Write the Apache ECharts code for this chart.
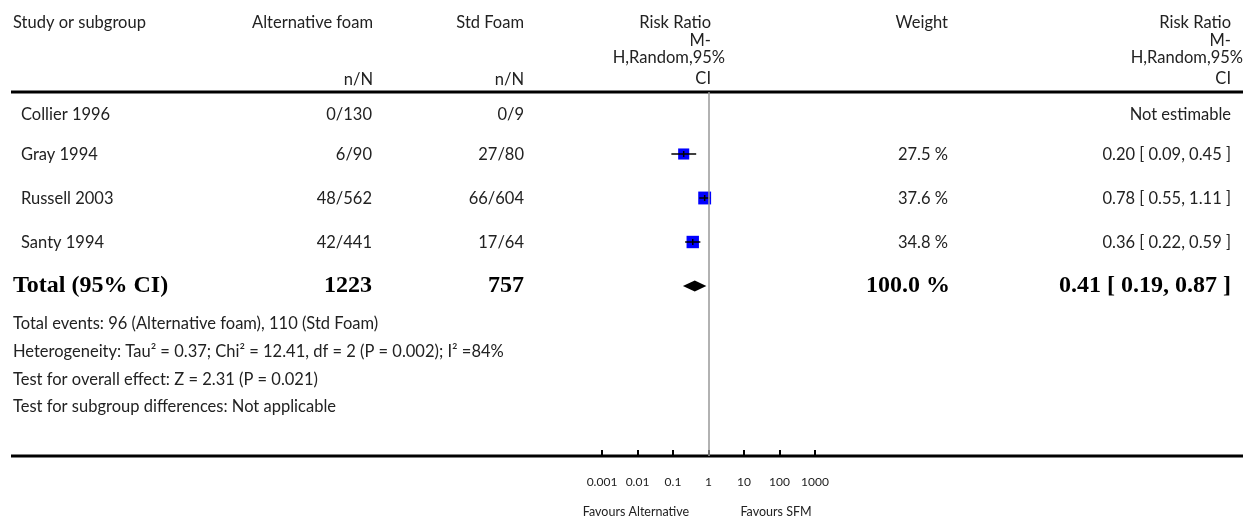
<!DOCTYPE html>
<html><head><meta charset="utf-8">
<script src="https://cdn.jsdelivr.net/npm/echarts@6/dist/echarts.min.js"></script>
<style>html,body{margin:0;padding:0;background:#fff}#chart{width:1259px;height:521px}</style>
</head><body><div id="chart"></div>
<script>
// Study rows
const studies   = ['Collier 1996', 'Gray 1994', 'Russell 2003', 'Santy 1994'];
const altEvents = ['0/130', '6/90', '48/562', '42/441'];
const stdEvents = ['0/9', '27/80', '66/604', '17/64'];
const weights   = [null, 27.5, 37.6, 34.8];
const rrEst     = [null, 0.20, 0.78, 0.36];
const rrLow     = [null, 0.09, 0.55, 0.22];
const rrHigh    = [null, 0.45, 1.11, 0.59];

// Pooled row
const totalLabel  = 'Total (95% CI)';
const totalAlt    = 1223;
const totalStd    = 757;
const totalWeight = 100.0;
const totalRR     = [0.41, 0.19, 0.87];

// Footnotes
const footnotes = [
  'Total events: 96 (Alternative foam), 110 (Std Foam)',
  'Heterogeneity: Tau\u00b2 = 0.37; Chi\u00b2 = 12.41, df = 2 (P = 0.002); I\u00b2 =84%',
  'Test for overall effect: Z = 2.31 (P = 0.021)',
  'Test for subgroup differences: Not applicable'
];

// Axis ticks
const tickValues = [0.001, 0.01, 0.1, 1, 10, 100, 1000];
const tickLabels = ['0.001', '0.01', '0.1', '1', '10', '100', '1000'];

const SANS = 'Lato, "Open Sans", sans-serif';
const SERIF = '"Liberation Serif", "DejaVu Serif", serif';
const TXT = '#222';

const chart = echarts.init(document.getElementById('chart'), null, {renderer: 'canvas'});

// plot-area geometry
const plotTop = 92, plotBottom = 456, rowStep = 44, firstRow = 18;
const yMin = -firstRow / rowStep;
const yMax = yMin + (plotBottom - plotTop) / rowStep;

const studyData = [];
studies.forEach((s, i) => {
  if (rrEst[i] != null) studyData.push([i, rrEst[i], rrLow[i], rrHigh[i], weights[i]]);
});
const totalRow = studies.length;

chart.setOption({
  animation: false,
  grid: {left: 602, right: 1259 - 815, top: plotTop, bottom: 521 - plotBottom},
  xAxis: {
    type: 'log', logBase: 10, min: tickValues[0], max: tickValues[tickValues.length - 1],
    position: 'bottom',
    axisLine: {show: false, onZero: false},
    axisTick: {show: true, inside: true, length: 6, lineStyle: {color: '#000', width: 2}},
    splitLine: {show: false},
    axisLabel: {
      margin: 20, fontSize: 12, color: TXT, fontFamily: SANS,
      formatter: v => tickLabels[tickValues.findIndex(t => Math.abs(Math.log10(t) - Math.log10(v)) < 1e-6)] || ''
    }
  },
  yAxis: {type: 'value', inverse: true, min: yMin, max: yMax, show: false},
  series: [
    {
      type: 'custom',
      encode: {x: [1, 2, 3], y: 0},
      data: studyData,
      renderItem: (params, api) => {
        const row = api.value(0);
        const pE = api.coord([api.value(1), row]);
        const pL = api.coord([api.value(2), row]);
        const pH = api.coord([api.value(3), row]);
        const s = 2 * Math.sqrt(api.value(4)) + 0.6;
        return {type: 'group', children: [
          {type: 'rect', shape: {x: pE[0] - s / 2, y: pE[1] - s / 2, width: s, height: s}, style: {fill: '#0000ff'}},
          {type: 'line', shape: {x1: pL[0], y1: pL[1], x2: pH[0], y2: pH[1]}, style: {stroke: '#000', lineWidth: 1.5}},
          {type: 'line', shape: {x1: pE[0], y1: pE[1] - 3, x2: pE[0], y2: pE[1] + 3}, style: {stroke: '#000', lineWidth: 1.5}}
        ]};
      },
      markLine: {
        silent: true, symbol: 'none', label: {show: false},
        lineStyle: {color: '#999', width: 1.5, type: 'solid'},
        data: [{xAxis: 1}]
      }
    },
    {
      type: 'custom',
      encode: {x: [1, 2, 3], y: 0},
      data: [[totalRow, totalRR[0], totalRR[1], totalRR[2]]],
      renderItem: (params, api) => {
        const row = api.value(0);
        const pE = api.coord([api.value(1), row]);
        const pL = api.coord([api.value(2), row]);
        const pH = api.coord([api.value(3), row]);
        const h = 5.5;
        return {type: 'polygon', shape: {points: [[pL[0], pL[1]], [pE[0], pE[1] - h], [pH[0], pH[1]], [pE[0], pE[1] + h]]}, style: {fill: '#000'}};
      }
    }
  ]
});

// table text, rows aligned to the plot's row scale
const rowY = i => chart.convertToPixel({gridIndex: 0}, [1, i])[1];
const g = [];
const txt = (text, x, y, align, font, color) => g.push({
  type: 'text', x: x, y: y, silent: true,
  style: {text: text, textAlign: align, textVerticalAlign: 'middle', font: font, fill: color || TXT}
});
const F = '16.5px ' + SANS;
const FB = 'bold 24px ' + SERIF;

// column headers
txt('Study or subgroup', 13, 23, 'left', F);
txt('Alternative foam', 373, 23, 'right', F);
txt('Std Foam', 524, 23, 'right', F);
txt('n/N', 373, 80, 'right', F);
txt('n/N', 524, 80, 'right', F);
txt('Weight', 948, 23, 'right', F);
[['Risk Ratio', 23], ['M-', 41], ['H,Random,95%', 58], ['CI', 79]].forEach(([t, y]) => {
  txt(t, 711 + (t.startsWith('H') ? 14 : 0), y, 'right', F);
  txt(t, 1231 + (t.startsWith('H') ? 12 : 0), y, 'right', F);
});

// study rows
studies.forEach((s, i) => {
  const y = rowY(i) + (i === 0 ? 5 : 1);
  txt(s, 21, y, 'left', F);
  txt(altEvents[i], 372, y, 'right', F);
  txt(stdEvents[i], 524, y, 'right', F);
  if (weights[i] != null) {
    txt(weights[i].toFixed(1) + ' %', 948, y, 'right', F);
    txt(rrEst[i].toFixed(2) + ' [ ' + rrLow[i].toFixed(2) + ', ' + rrHigh[i].toFixed(2) + ' ]', 1231, y, 'right', F);
  } else {
    txt('Not estimable', 1231, y, 'right', F);
  }
});

// pooled row
const ty = rowY(totalRow);
txt(totalLabel, 13, ty, 'left', FB, '#000');
txt(String(totalAlt), 372, ty, 'right', FB, '#000');
txt(String(totalStd), 524, ty, 'right', FB, '#000');
txt(totalWeight.toFixed(1) + ' %', 950, ty, 'right', FB, '#000');
txt(totalRR[0].toFixed(2) + ' [ ' + totalRR[1].toFixed(2) + ', ' + totalRR[2].toFixed(2) + ' ]', 1231, ty, 'right', FB, '#000');

// footnotes
[324, 352, 380, 407].forEach((y, k) => txt(footnotes[k], 13, y, 'left', F));

// favours captions
txt('Favours Alternative', 636, 512, 'center', '12.5px ' + SANS);
txt('Favours SFM', 776, 512, 'center', '12.5px ' + SANS);

// horizontal rules
g.push({type: 'line', silent: true, shape: {x1: 11, y1: plotTop, x2: 1243, y2: plotTop}, style: {stroke: '#000', lineWidth: 3}});
g.push({type: 'line', silent: true, shape: {x1: 11, y1: plotBottom, x2: 1243, y2: plotBottom}, style: {stroke: '#000', lineWidth: 3}});

chart.setOption({graphic: g});
</script>
</body></html>
